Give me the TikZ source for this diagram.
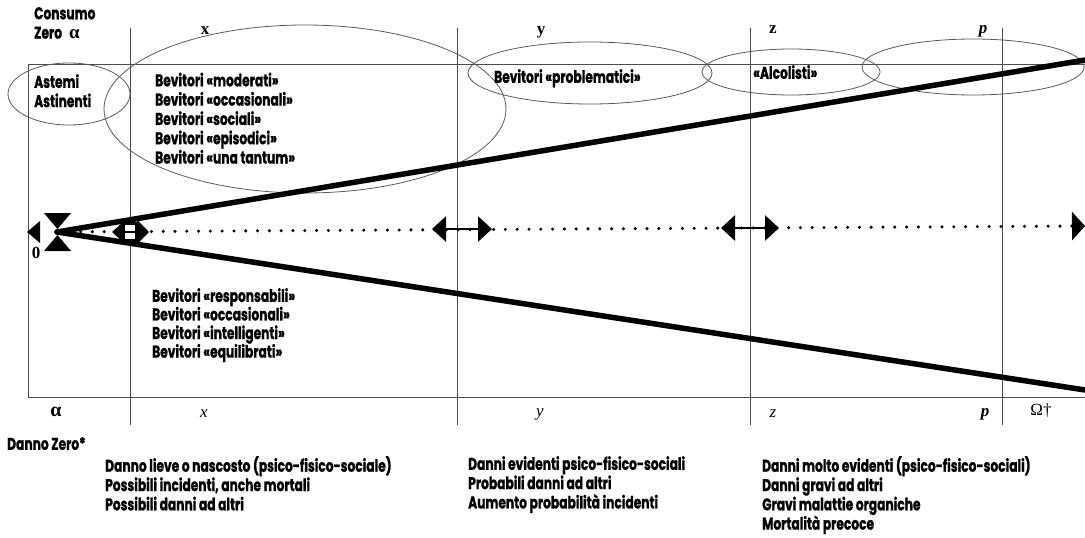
\documentclass[tikz,border=0pt]{standalone}
\usepackage{fontspec}
\setmainfont{Poppins}[FakeStretch=0.72, BoldFeatures={FakeBold=1.0}]
\newfontfamily\letterfont{Liberation Serif}
\usetikzlibrary{arrows.meta,shapes.geometric}

\begin{document}
\begin{tikzpicture}[x=1pt,y=-1pt,
  gridline/.style={draw=black!70, line width=0.8pt},
  group/.style={draw=black!65, line width=0.8pt, ellipse, inner sep=0pt},
  heavy/.style={line width=5.5pt, line cap=round},
  dotline/.style={line width=3.4pt, line cap=round, dash pattern=on 0pt off 11.8pt},
  txt/.style={font=\fontsize{17}{19.3}\selectfont\bfseries, align=left, inner sep=0pt, anchor=north west},
  letter/.style={font=\fontsize{17}{17}\selectfont\letterfont, inner sep=0pt},
  dbl/.style={line width=2.8pt, {Triangle[length=14pt,width=25pt]}-{Triangle[length=14pt,width=25pt]}},
]
\useasboundingbox (0,0) rectangle (1085,538);

% frame and column separators
\draw[gridline] (1085,64) -- (28,64) -- (28,397) -- (1085,397);
\foreach \cx/\nm in {130/c1, 457/c2, 750/c3, 1002/c4}
  \draw[gridline] (\cx,28) coordinate (\nm top) -- (\cx,425) coordinate (\nm bot);

% groups of drinkers
\node[group, minimum width=122pt, minimum height=62pt] (astemiE) at (69,94) {};
\node[group, minimum width=402pt, minimum height=168pt] (moderatiE) at (305,109) {};
\node[group, minimum width=244pt, minimum height=62pt] (problemE) at (590,73) {};
\node[group, minimum width=178pt, minimum height=46pt] (alcolE) at (791,72) {};
\node[group, minimum width=222pt, minimum height=56pt] (extremeE) at (973,67) {};

% the two heavy rays
\coordinate (O) at (57,232);
\coordinate (topend) at (1085,60);
\coordinate (botend) at (1085,390);
\coordinate (dotend) at (1085,226);
\draw[heavy] (O) -- (topend);
\draw[heavy] (O) -- (botend);

% dotted axis
\draw[dotline, -{Triangle[length=13pt,width=28pt]}] (O) -- (dotend);

% markers at the origin
\fill (27,232) -- (40,221) -- (40,243) -- cycle;
\fill (44,213) -- (71,213) -- (57.5,229) -- cycle;
\fill (44,251) -- (71,251) -- (57.5,235) -- cycle;
\node[letter, font=\fontsize{17}{17}\selectfont\letterfont\bfseries] (zero) at (36,253) {0};

% double arrows on the axis
\coordinate (m1) at (112,232);
\coordinate (m2) at (149,232);
\draw[dbl, {Triangle[length=12pt,width=21pt]}-{Triangle[length=12pt,width=24pt]}] (m1) -- (m2);
\draw[line width=2.6pt, fill=white] (124,223.5) rectangle (136,240.5);
\draw[line width=2.6pt] (124,232) -- (136,232);
\coordinate (a1) at (432,229);
\coordinate (a2) at (492,229);
\draw[dbl] (a1) -- (a2);
\coordinate (b1) at (721,228);
\coordinate (b2) at (779,228);
\draw[dbl] (b1) -- (b2);

% top headings
\node[txt] (consumo) at (34,7) {Consumo\\Zero\hspace{7pt}{\letterfont\bfseries\fontsize{19}{17}\selectfont α}};
\node[letter, font=\fontsize{17}{17}\selectfont\letterfont\bfseries] (tx) at (205,31) {x};
\node[letter, font=\fontsize{17}{17}\selectfont\letterfont\bfseries] (ty) at (541,32) {y};
\node[letter, font=\fontsize{17}{17}\selectfont\letterfont\bfseries] (tz) at (773,30) {z};
\node[letter, font=\fontsize{17}{17}\selectfont\letterfont\bfseries\itshape] (tp) at (983,31) {p};

% group labels
\node[txt] (astemi) at (34,74) {Astemi\\Astinenti};
\node[txt] (moderati) at (155,72.5) {Bevitori «moderati»\\Bevitori «occasionali»\\Bevitori «sociali»\\Bevitori «episodici»\\Bevitori «una tantum»};
\node[txt] (problem) at (494,69) {Bevitori «problematici»};
\node[txt] (alcol) at (753,65) {«Alcolisti»};
\node[txt, font=\fontsize{17}{18.6}\selectfont\bfseries] (respons) at (152,288) {Bevitori «responsabili»\\Bevitori «occasionali»\\Bevitori «intelligenti»\\Bevitori «equilibrati»};

% bottom headings
\node[letter, font=\fontsize{20}{17}\selectfont\letterfont\bfseries] (bal) at (56,412) {α};
\node[letter, font=\fontsize{17}{17}\selectfont\letterfont\itshape] (bx) at (204,414) {x};
\node[letter, font=\fontsize{17}{17}\selectfont\letterfont\itshape] (by) at (540,414) {y};
\node[letter, font=\fontsize{17}{17}\selectfont\letterfont\itshape] (bz) at (773,414) {z};
\node[letter, font=\fontsize{17}{17}\selectfont\letterfont\itshape\bfseries] (bp) at (985,414) {p};
\node[letter] (bomega) at (1041,411) {Ω†};

% damage descriptions
\node[txt] (dzero) at (7,437) {Danno Zero*};
\node[txt] (d1) at (105,456) {Danno lieve o nascosto (psico-fisico-sociale)\\Possibili incidenti, anche mortali\\Possibili danni ad altri};
\node[txt] (d2) at (468,456) {Danni evidenti psico-fisico-sociali\\Probabili danni ad altri\\Aumento probabilità incidenti};
\node[txt] (d3) at (762,456) {Danni molto evidenti (psico-fisico-sociali)\\Danni gravi ad altri\\Gravi malattie organiche\\Mortalità precoce};
\end{tikzpicture}
\end{document}
